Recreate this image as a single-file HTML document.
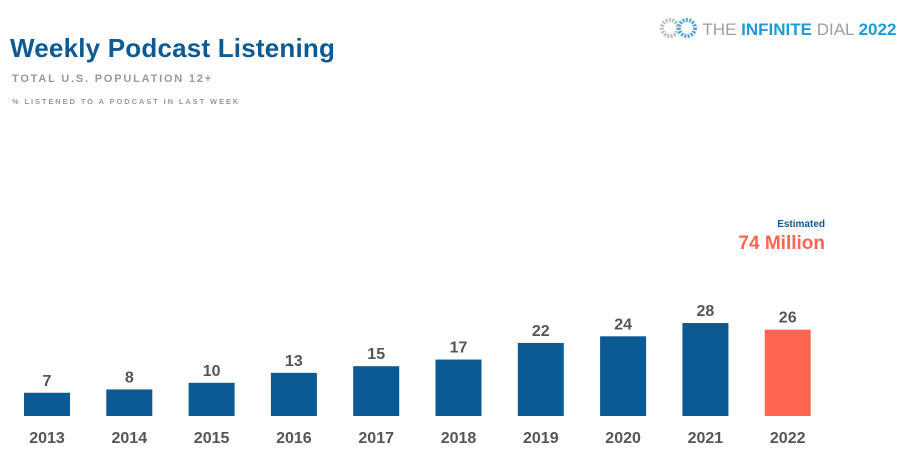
<!DOCTYPE html>
<html><head><meta charset="utf-8">
<style>
body{margin:0;width:909px;height:459px;background:#fff;overflow:hidden;font-family:"Liberation Sans",sans-serif;position:relative}
.t{position:absolute;white-space:nowrap}
</style></head>
<body>
<div class="t" style="left:10px;top:33px;font-size:26px;font-weight:bold;color:#0c5a94;letter-spacing:0.2px">Weekly Podcast Listening</div>
<div class="t" style="left:12px;top:73px;font-size:11px;font-weight:bold;color:#999;letter-spacing:1.8px">TOTAL U.S. POPULATION 12+</div>
<div class="t" style="left:12px;top:97px;font-size:7.5px;font-weight:bold;color:#999;letter-spacing:1.9px">% LISTENED TO A PODCAST IN LAST WEEK</div>
<div class="t" style="left:660px;top:17px;font-size:17px;color:#9aa0a6">
<svg width="38" height="22" viewBox="0 0 38 22" style="vertical-align:-4px"><circle cx="10" cy="11" r="8" fill="none" stroke="#b8bcc0" stroke-width="4" stroke-dasharray="2 1.3"/><circle cx="27" cy="11" r="8" fill="none" stroke="#4aa3dd" stroke-width="4" stroke-dasharray="2 1.3"/></svg>
THE <b style="color:#1e9ad6">INFINITE</b> DIAL <b style="color:#1e9ad6">2022</b></div>
<div class="t" style="right:84px;top:219px;font-size:10px;font-weight:bold;color:#0c5a94">Estimated</div>
<div class="t" style="right:84px;top:233px;font-size:19px;font-weight:bold;color:#ff6550">74 Million</div>
<svg id="c" width="909" height="459" style="position:absolute;left:0;top:0"></svg>
<script>
const years=["2013","2014","2015","2016","2017","2018","2019","2020","2021","2022"];
const values=[7,8,10,13,15,17,22,24,28,26];
const highlight=["2022"];
const svg=document.getElementById('c');
const NS="http://www.w3.org/2000/svg";
const base=416, unit=3.32, x0=47, step=82.3, bw=46;
function xs(i){return x0+i*step;}
function ys(v){return base-v*unit;}
years.forEach((y,i)=>{
  const v=values[i];
  const r=document.createElementNS(NS,'rect');
  r.setAttribute('x',xs(i)-bw/2);r.setAttribute('y',ys(v));
  r.setAttribute('width',bw);r.setAttribute('height',base-ys(v));
  r.setAttribute('fill',highlight.includes(y)?'#ff6550':'#0c5a94');
  
  
  svg.appendChild(r);
  const t=document.createElementNS(NS,'text');
  t.setAttribute('x',xs(i));t.setAttribute('y',ys(v)-7);
  t.setAttribute('text-anchor','middle');t.setAttribute('font-size','16');
  t.setAttribute('font-weight','bold');t.setAttribute('fill','#555');
  t.setAttribute('font-family','Liberation Sans, sans-serif');
  t.textContent=v;
  
  
  svg.appendChild(t);
  const l=document.createElementNS(NS,'text');
  l.setAttribute('x',xs(i));l.setAttribute('y',443);
  l.setAttribute('text-anchor','middle');l.setAttribute('font-size','16');
  l.setAttribute('font-weight','bold');l.setAttribute('fill','#555');
  l.setAttribute('font-family','Liberation Sans, sans-serif');
  l.textContent=y;
  
  
  svg.appendChild(l);
});
</script>
</body></html>
